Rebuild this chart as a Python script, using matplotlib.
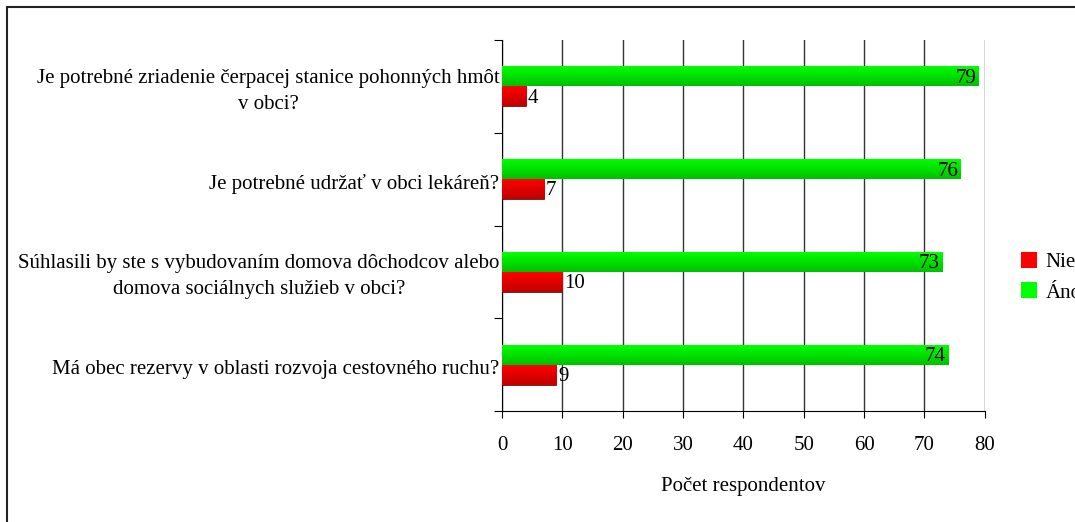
import numpy as np
import matplotlib
matplotlib.use("Agg")
import matplotlib.pyplot as plt
from matplotlib.patches import Rectangle, Patch

plt.rcParams["font.family"] = ["Liberation Serif", "DejaVu Serif"]

questions = [
    "Je potrebné zriadenie čerpacej stanice pohonných hmôt\nv obci?",
    "Je potrebné udržať v obci lekáreň?",
    "Súhlasili by ste s vybudovaním domova dôchodcov alebo\ndomova sociálnych služieb v obci?",
    "Má obec rezervy v oblasti rozvoja cestovného ruchu?",
]
ano = [79, 76, 73, 74]
nie = [4, 7, 10, 9]
series_names = ["Nie", "Áno"]
x_ticks = [0, 10, 20, 30, 40, 50, 60, 70, 80]

FS = 15


def gradient_bars(ax, bars, top_color, bottom_color):
    # vertical gradient clipped to each bar
    grad = np.linspace(0, 1, 64).reshape(-1, 1)
    c0 = np.array(matplotlib.colors.to_rgb(top_color))
    c1 = np.array(matplotlib.colors.to_rgb(bottom_color))
    img = (c0 + (c1 - c0) * grad[..., None]).reshape(64, 1, 3)
    for b in bars:
        x0, y0 = b.get_x(), b.get_y()
        w, h = b.get_width(), b.get_height()
        im = ax.imshow(img, extent=(x0, x0 + w, y0 + h, y0), aspect="auto",
                       zorder=b.get_zorder(), interpolation="bilinear")
        im.set_clip_path(b)
        b.set_facecolor("none")


fig = plt.figure(figsize=(10.75, 5.22), dpi=100)
ax = fig.add_axes([0.467, 0.2126, 0.449, 0.7108])

# outer frame of the chart
fig.patches.append(Rectangle((7 / 1075, -0.1), 1.2, 1 - 7 / 522 + 0.1,
                             transform=fig.transFigure, fill=False,
                             edgecolor="#222222", linewidth=1.5))

y = np.arange(len(questions))
h = 0.215
bars_ano = ax.barh(y - h / 2, ano, height=h, color="#00ff00", zorder=3,
                   edgecolor="none")
bars_nie = ax.barh(y + h / 2, nie, height=h, color="#ff0000", zorder=3,
                   edgecolor="#600000", linewidth=0.6)
gradient_bars(ax, bars_ano, "#00ff00", "#00c000")
gradient_bars(ax, bars_nie, "#ff0000", "#c00000")

for i in range(len(questions)):
    ax.text(ano[i] - 0.4, y[i] - h / 2 + 0.02, str(ano[i]), ha="right",
            va="center", fontsize=FS, zorder=4)
    ax.text(nie[i] + 0.3, y[i] + h / 2 + 0.02, str(nie[i]), ha="left",
            va="center", fontsize=FS, zorder=4)
    ax.text(-0.4, y[i] + 0.05, questions[i], ha="right", va="center",
            multialignment="center", fontsize=FS, linespacing=1.5,
            transform=ax.transData)

ax.set_xlim(0, 80)
ax.set_ylim(3.5, -0.5)
ax.set_xticks(x_ticks)
ax.set_xticklabels([str(t) for t in x_ticks], fontsize=FS)
ax.set_yticks(np.arange(-0.5, len(questions), 1.0))
ax.set_yticklabels([])
ax.tick_params(axis="x", direction="out", length=5, pad=13, color="black")
ax.tick_params(axis="y", direction="out", length=6, color="black")
ax.xaxis.grid(True, color="#333333", linewidth=1)
ax.set_axisbelow(True)
for s in ["top", "right"]:
    ax.spines[s].set_visible(False)
ax.spines["left"].set_color("black")
ax.spines["bottom"].set_color("black")
ax.set_xlabel("Počet respondentov", fontsize=FS, labelpad=16)

handles = [Patch(facecolor="#ff0000", edgecolor="none"),
           Patch(facecolor="#00ff00", edgecolor="none")]
fig.legend(handles, series_names, loc="upper left",
           bbox_to_anchor=(1002 / 1075, 1 - 233 / 522), frameon=False,
           fontsize=FS, handlelength=0.8, handleheight=0.8,
           handletextpad=0.4, labelspacing=0.5)

fig.savefig("out.png", dpi=100)
